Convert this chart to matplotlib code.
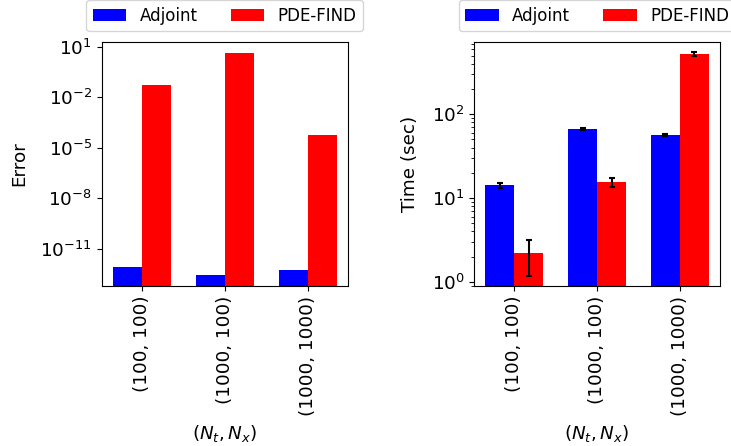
import matplotlib
matplotlib.use("Agg")
import matplotlib.pyplot as plt
import numpy as np

plt.rcParams['font.size'] = 13.2
plt.rcParams['legend.fontsize'] = 12

categories = ["(100, 100)", "(1000, 100)", "(1000, 1000)"]
series = ["Adjoint", "PDE-FIND"]
colors = ["blue", "red"]

error_adjoint = [8.1e-13, 2.6e-13, 5.2e-13]
error_pdefind = [0.054, 4.4, 6.0e-5]

time_adjoint = [14.2, 66.7, 56.6]
time_adjoint_err = [1.0, 1.5, 1.5]
time_pdefind = [2.18, 15.4, 525.0]
time_pdefind_err = [1.0, 2.0, 25.0]

W, H = 731, 446
DPI = 100
fig = plt.figure(figsize=(W / DPI, H / DPI), dpi=DPI)

def axrect(x0, y0, x1, y1):
    return [x0 / W, 1 - y1 / H, (x1 - x0) / W, (y1 - y0) / H]

ax1 = fig.add_axes(axrect(101.7, 41.7, 347.7, 286))
ax2 = fig.add_axes(axrect(474.3, 41.7, 720, 286))

x = np.arange(len(categories))
w = 0.35

ax1.bar(x - w / 2, error_adjoint, w, color=colors[0], label=series[0])
ax1.bar(x + w / 2, error_pdefind, w, color=colors[1], label=series[1])
ax1.set_yscale('log')
ax1.set_ylim(5.9e-14, 20)
ax1.set_yticks([1e1, 1e-2, 1e-5, 1e-8, 1e-11])
ax1.set_ylabel("Error", labelpad=9)

ekw = dict(ecolor='black', capsize=2.5, elinewidth=1.5, capthick=1.5)
ax2.bar(x - w / 2, time_adjoint, w, yerr=time_adjoint_err, color=colors[0], label=series[0], error_kw=ekw)
ax2.bar(x + w / 2, time_pdefind, w, yerr=time_pdefind_err, color=colors[1], label=series[1], error_kw=ekw)
ax2.set_yscale('log')
ax2.set_ylim(0.89, 736)
ax2.set_ylabel("Time (sec)", labelpad=9)

for ax in (ax1, ax2):
    ax.set_xticks(x)
    ax.set_xticklabels(categories, rotation=90)
    ax.set_xlim(-0.485, 2.485)
    ax.set_xlabel(r"$(N_t, N_x)$", labelpad=5.5)
    ax.legend(loc='lower center', bbox_to_anchor=(0.5, 1 + 10.5 / 244.3),
              ncol=2, borderaxespad=0)

fig.savefig("out.png", dpi=DPI)
